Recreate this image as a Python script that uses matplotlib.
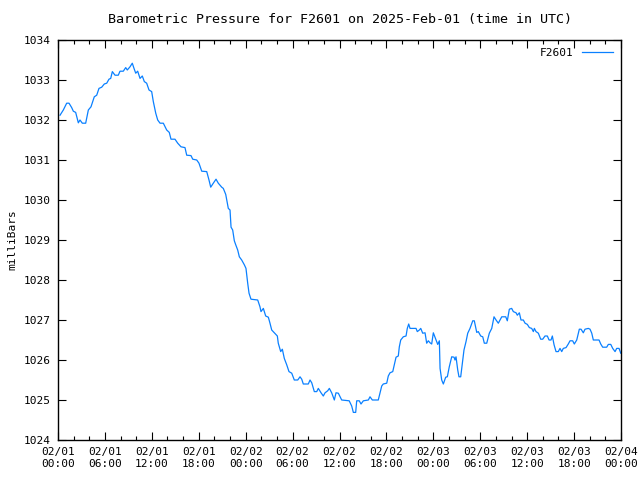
import matplotlib
matplotlib.use("Agg")
import matplotlib.pyplot as plt
from matplotlib.ticker import MultipleLocator

# hours since 02/01 00:00 UTC
hours = [
    0.26, 0.68, 1.11, 1.41, 1.75, 1.96, 2.26, 2.60, 2.81, 3.11, 3.54, 3.88, 4.22, 4.64, 4.95,
    5.24, 5.59, 5.92, 6.23, 6.52, 6.74, 6.95, 7.29, 7.71, 7.93, 8.35, 8.66, 8.86, 9.21, 9.50,
    9.72, 9.94, 10.19, 10.49, 10.78, 11.04, 11.34, 11.64, 11.98, 12.19, 12.50, 12.75, 13.05,
    13.47, 13.90, 14.23, 14.45, 14.96, 15.31, 15.73, 16.24, 16.46, 17.01, 17.23, 17.74, 18.03,
    18.38, 19.02, 19.31, 19.53, 19.86, 20.21, 20.50, 20.94, 21.14, 21.45, 21.58, 21.78, 22.00,
    22.13, 22.34, 22.55, 22.73, 22.98, 23.19, 23.49, 23.83, 24.04, 24.26, 24.43, 24.68, 25.54,
    25.83, 25.96, 26.26, 26.56, 26.90, 27.11, 27.33, 27.66, 28.05, 28.17, 28.48, 28.69, 28.94,
    29.25, 29.54, 29.89, 30.22, 30.66, 30.95, 31.17, 31.37, 32.01, 32.23, 32.45, 32.78, 33.09,
    33.29, 33.64, 33.93, 34.15, 34.49, 34.70, 35.00, 35.34, 35.55, 35.85, 36.28, 37.24, 37.56,
    37.77, 38.07, 38.20, 38.53, 38.75, 39.05, 39.69, 39.90, 40.20, 40.96, 41.18, 41.40, 41.60,
    42.04, 42.24, 42.46, 42.81, 42.97, 43.23, 43.52, 43.65, 43.83, 44.16, 44.51, 44.67, 44.85,
    45.02, 45.79, 45.95, 46.21, 46.39, 46.64, 46.94, 47.15, 47.36, 47.58, 47.79, 48.00, 48.34,
    48.56, 48.77, 48.86, 49.07, 49.28, 49.58, 49.79, 50.04, 50.35, 50.65, 50.77, 50.90, 51.12,
    51.28, 51.50, 51.71, 51.92, 52.18, 52.40, 52.69, 53.04, 53.24, 53.55, 53.75, 54.06, 54.32,
    54.52, 54.83, 55.16, 55.47, 55.76, 56.02, 56.31, 56.75, 57.26, 57.46, 57.72, 58.02, 58.23,
    58.58, 58.74, 59.00, 59.21, 59.51, 59.73, 60.02, 60.28, 60.58, 60.79, 60.92, 61.13, 61.43,
    61.73, 61.99, 62.28, 62.58, 62.80, 63.05, 63.22, 63.44, 63.69, 63.98, 64.20, 64.42, 64.62,
    64.97, 65.26, 65.48, 65.82, 66.03, 66.34, 66.67, 66.89, 67.18, 67.40, 67.82, 68.04, 68.26,
    68.46, 69.19, 69.41, 69.66, 70.17, 70.38, 70.69, 70.94, 71.24, 71.45, 71.75, 71.97,
]
pressure = [
    1032.12, 1032.25, 1032.42, 1032.42, 1032.31, 1032.22, 1032.19, 1031.93, 1032.00, 1031.92,
    1031.92, 1032.25, 1032.33, 1032.58, 1032.62, 1032.79, 1032.82, 1032.90, 1032.92, 1033.02,
    1033.04, 1033.21, 1033.12, 1033.12, 1033.22, 1033.22, 1033.31, 1033.25, 1033.33, 1033.42,
    1033.29, 1033.17, 1033.22, 1033.04, 1033.10, 1032.96, 1032.92, 1032.75, 1032.71, 1032.46,
    1032.17, 1032.00, 1031.92, 1031.92, 1031.75, 1031.69, 1031.52, 1031.52, 1031.42, 1031.33,
    1031.31, 1031.12, 1031.11, 1031.02, 1031.00, 1030.92, 1030.72, 1030.71, 1030.50, 1030.32,
    1030.42, 1030.52, 1030.42, 1030.32, 1030.29, 1030.14, 1030.00, 1029.79, 1029.75, 1029.32,
    1029.25, 1028.98, 1028.88, 1028.75, 1028.58, 1028.50, 1028.38, 1028.29, 1027.92, 1027.67,
    1027.52, 1027.50, 1027.33, 1027.21, 1027.29, 1027.10, 1027.07, 1026.92, 1026.75, 1026.68,
    1026.60, 1026.42, 1026.21, 1026.27, 1026.04, 1025.88, 1025.71, 1025.67, 1025.50, 1025.50,
    1025.58, 1025.52, 1025.40, 1025.40, 1025.50, 1025.43, 1025.21, 1025.21, 1025.29, 1025.18,
    1025.10, 1025.18, 1025.23, 1025.29, 1025.18, 1025.00, 1025.18, 1025.17, 1025.00, 1024.98,
    1024.85, 1024.69, 1024.69, 1024.98, 1024.98, 1024.90, 1024.98, 1025.00, 1025.08, 1025.00,
    1025.00, 1025.17, 1025.35, 1025.40, 1025.42, 1025.60, 1025.68, 1025.71, 1025.85, 1026.07,
    1026.10, 1026.33, 1026.50, 1026.58, 1026.60, 1026.79, 1026.90, 1026.79, 1026.79, 1026.71,
    1026.75, 1026.79, 1026.67, 1026.68, 1026.42, 1026.48, 1026.43, 1026.40, 1026.68, 1026.50,
    1026.39, 1026.48, 1025.79, 1025.50, 1025.40, 1025.57, 1025.58, 1025.83, 1026.08, 1026.07,
    1026.00, 1026.08, 1025.75, 1025.58, 1025.58, 1025.92, 1026.25, 1026.46, 1026.67, 1026.79,
    1026.98, 1026.98, 1026.69, 1026.71, 1026.60, 1026.58, 1026.42, 1026.42, 1026.67, 1026.79,
    1027.08, 1027.00, 1026.92, 1027.08, 1027.08, 1026.98, 1027.27, 1027.29, 1027.21, 1027.18,
    1027.12, 1027.18, 1027.00, 1027.00, 1026.92, 1026.89, 1026.81, 1026.79, 1026.71, 1026.79,
    1026.71, 1026.67, 1026.52, 1026.52, 1026.60, 1026.60, 1026.50, 1026.50, 1026.60, 1026.38,
    1026.21, 1026.21, 1026.29, 1026.21, 1026.29, 1026.31, 1026.40, 1026.48, 1026.48, 1026.40,
    1026.50, 1026.77, 1026.77, 1026.68, 1026.77, 1026.79, 1026.77, 1026.67, 1026.50, 1026.50,
    1026.40, 1026.32, 1026.32, 1026.39, 1026.39, 1026.29, 1026.21, 1026.29, 1026.29, 1026.17,
]

tick_hours = list(range(0, 73, 6))
tick_labels = ["02/01\n00:00", "02/01\n06:00", "02/01\n12:00", "02/01\n18:00",
               "02/02\n00:00", "02/02\n06:00", "02/02\n12:00", "02/02\n18:00",
               "02/03\n00:00", "02/03\n06:00", "02/03\n12:00", "02/03\n18:00",
               "02/04\n00:00"]

plt.rcParams['font.family'] = ['DejaVu Sans Mono']
plt.rcParams['font.size'] = 8

fig = plt.figure(figsize=(6.4, 4.8), dpi=100)
ax = fig.add_axes([58 / 640, 40 / 480, 563 / 640, 400 / 480])

ax.plot(hours, pressure, color='#0a80ff', linewidth=0.9, label='F2601')

ax.set_xlim(0, 72)
ax.set_ylim(1024, 1034)
ax.set_xticks(tick_hours)
ax.set_xticklabels(tick_labels)
ax.xaxis.set_minor_locator(MultipleLocator(2))
ax.yaxis.set_major_locator(MultipleLocator(1))

ax.tick_params(which='both', direction='in', top=True, right=True, width=0.8)
ax.tick_params(which='major', length=6, pad=5)
ax.tick_params(which='minor', length=3)
for s in ax.spines.values():
    s.set_linewidth(1.0)

ax.set_ylabel('milliBars', labelpad=5)
ax.set_title('Barometric Pressure for F2601 on 2025-Feb-01 (time in UTC)', pad=12)

ax.legend(loc='upper right', frameon=False, markerfirst=False, handlelength=2.8,
          borderaxespad=0.3, handletextpad=0.8)

fig.savefig('out.png', dpi=100)
